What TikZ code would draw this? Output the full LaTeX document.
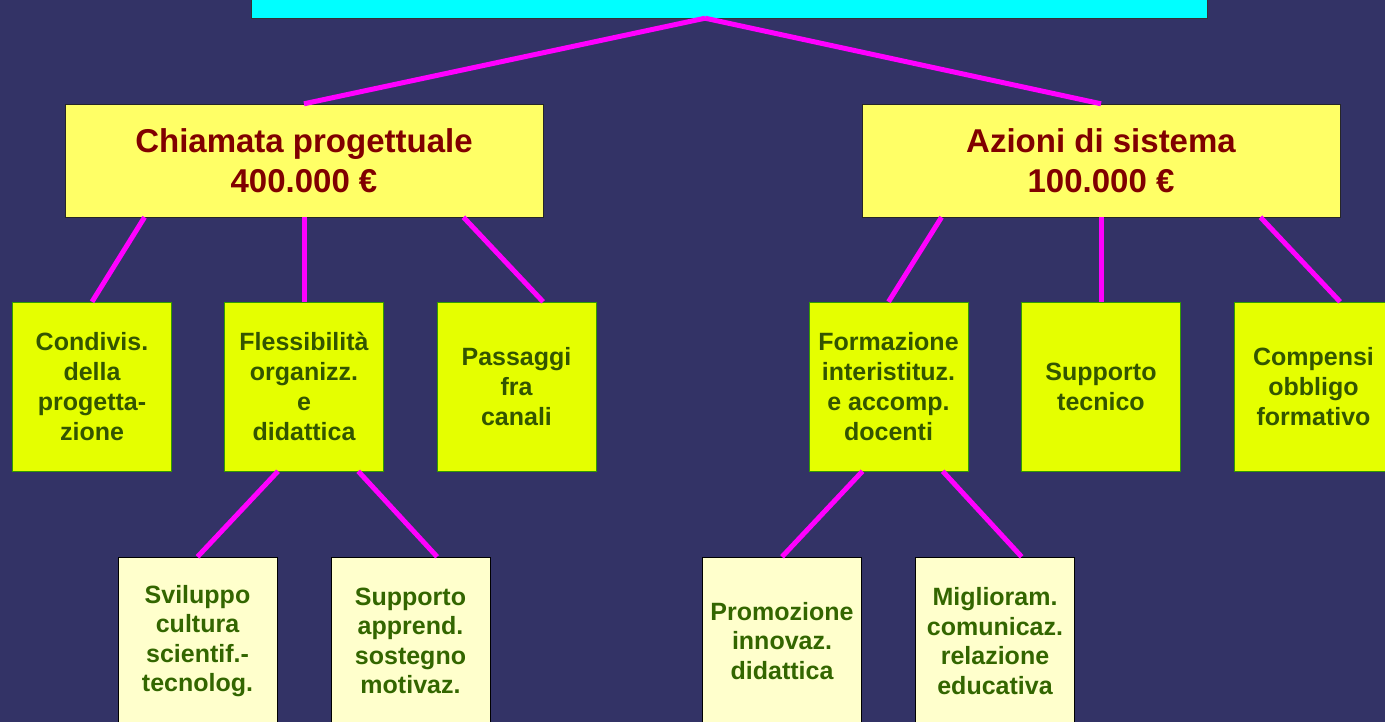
\documentclass[tikz,border=0pt]{standalone}
\usepackage{fontspec}
\setmainfont{Liberation Sans}
\usetikzlibrary{calc}
\definecolor{bgc}{RGB}{51,51,102}
\definecolor{topc}{RGB}{0,255,255}
\definecolor{yelc}{RGB}{255,255,102}
\definecolor{redt}{RGB}{128,0,0}
\definecolor{grnc}{RGB}{229,255,0}
\definecolor{grnb}{RGB}{51,153,0}
\definecolor{grnt}{RGB}{51,85,0}
\definecolor{palec}{RGB}{255,255,204}
\definecolor{palet}{RGB}{51,102,0}
\definecolor{mag}{RGB}{255,0,255}
\tikzset{
  topbox/.style={draw=black!80, fill=topc, minimum width=956pt, minimum height=58pt, inner sep=0pt},
  mainbox/.style={draw=black!85, fill=yelc, minimum width=478pt, minimum height=113pt, inner sep=0pt,
    align=center, text=redt, font=\bfseries\fontsize{33}{40}\selectfont},
  midbox/.style={draw=grnb, fill=grnc, minimum width=159pt, minimum height=169pt, inner sep=0pt,
    align=center, text=grnt, font=\bfseries\fontsize{25}{30}\selectfont},
  lowbox/.style={draw=black, fill=palec, minimum width=159pt, minimum height=168pt, inner sep=0pt,
    align=center, text=palet, font=\bfseries\fontsize{25}{29.5}\selectfont},
  link/.style={draw=mag, line width=5pt}
}
\begin{document}
\begin{tikzpicture}[x=1pt,y=-1pt]
\fill[bgc] (0,0) rectangle (1385,722);
\useasboundingbox (0,0) rectangle (1385,722);
\clip (0,0) rectangle (1385,722);

\node[topbox] (top) at (729,-11) {};
\node[mainbox] (chi) at (304,160.5) {Chiamata progettuale\\400.000 €};
\node[mainbox] (azi) at (1101,160.5) {Azioni di sistema\\100.000 €};

\node[midbox] (g1) at (92,386.5) {Condivis.\\della\\progetta-\\zione};
\node[midbox] (g2) at (304,386.5) {Flessibilità\\organizz.\\e\\didattica};
\node[midbox] (g3) at (516.5,386.5) {Passaggi\\fra\\canali};
\node[midbox] (g4) at (888.5,386.5) {Formazione\\interistituz.\\e accomp.\\docenti};
\node[midbox] (g5) at (1101,386.5) {Supporto\\tecnico};
\node[midbox] (g6) at (1313.5,386.5) {Compensi\\obbligo\\formativo};

\node[lowbox] (b1) at (197.5,641) {Sviluppo\\cultura\\scientif.-\\tecnolog.};
\node[lowbox] (b2) at (410.5,641) {Supporto\\apprend.\\sostegno\\motivaz.};
\node[lowbox] (b3) at (782,641) {Promozione\\innovaz.\\didattica};
\node[lowbox] (b4) at (995,641) {Miglioram.\\comunicaz.\\relazione\\educativa};

\draw[link] ($(top.south west)!0.475!(top.south east)$) -- (chi.north);
\draw[link] ($(top.south west)!0.475!(top.south east)$) -- (azi.north);

\draw[link] ($(chi.south west)!0.1667!(chi.south east)$) -- (g1.north);
\draw[link] (chi.south) -- (g2.north);
\draw[link] ($(chi.south west)!0.8333!(chi.south east)$) -- ($(g3.north west)!0.667!(g3.north east)$);

\draw[link] ($(azi.south west)!0.1667!(azi.south east)$) -- (g4.north);
\draw[link] (azi.south) -- (g5.north);
\draw[link] ($(azi.south west)!0.8333!(azi.south east)$) -- ($(g6.north west)!0.667!(g6.north east)$);

\draw[link] ($(g2.south west)!0.337!(g2.south east)$) -- (b1.north);
\draw[link] ($(g2.south west)!0.84!(g2.south east)$) -- ($(b2.north west)!0.667!(b2.north east)$);

\draw[link] ($(g4.south west)!0.337!(g4.south east)$) -- (b3.north);
\draw[link] ($(g4.south west)!0.84!(g4.south east)$) -- ($(b4.north west)!0.667!(b4.north east)$);
\end{tikzpicture}
\end{document}
